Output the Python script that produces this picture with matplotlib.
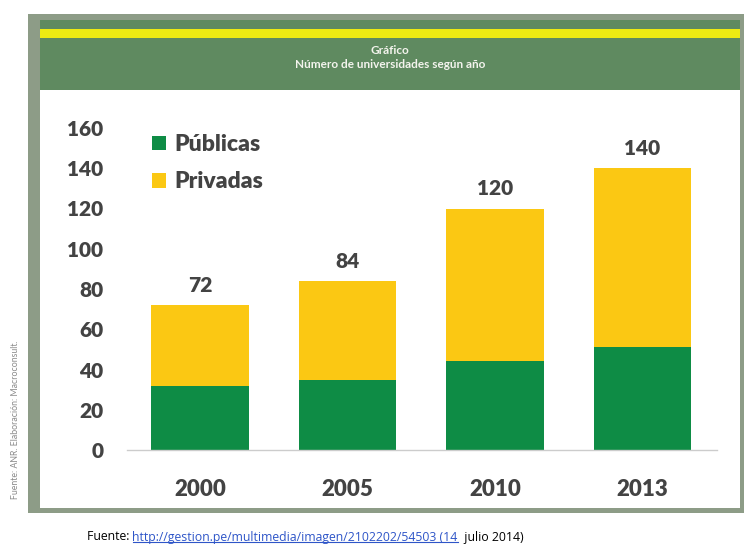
import matplotlib
matplotlib.use("Agg")
import matplotlib.pyplot as plt
from matplotlib.patches import Rectangle
from matplotlib.lines import Line2D

# Número de universidades por año (públicas / privadas)
anios = ['2000', '2005', '2010', '2013']
publicas = [32, 35, 44, 51]
privadas = [40, 49, 76, 89]
totales = [p + q for p, q in zip(publicas, privadas)]
ticks_y = [0, 20, 40, 60, 80, 100, 120, 140, 160]

VERDE = '#0e8c45'
AMARILLO = '#fbc813'
GRIS_TXT = '#434343'
MARCO = '#8d9c87'
CABECERA = '#5f8a60'
FRANJA = '#eeeb12'
PESO = 'heavy'

W, H = 744, 547
fig = plt.figure(figsize=(W / 100, H / 100), dpi=100)
plt.rcParams['font.family'] = ['Lato', 'DejaVu Sans']


def caja(x0, y0, x1, y1, color, z):
    # rectángulo en píxeles, origen arriba a la izquierda
    r = Rectangle((x0 / W, 1 - y1 / H), (x1 - x0) / W, (y1 - y0) / H,
                  transform=fig.transFigure, facecolor=color,
                  edgecolor='none', zorder=z)
    fig.add_artist(r)


# marco y cabecera
caja(28, 14, 744, 513, MARCO, -5)
caja(40, 20, 740, 508, 'white', -4)
caja(40, 20, 740, 90, CABECERA, -3)
caja(40, 29, 740, 38, FRANJA, -2)

fig.text(390 / W, 1 - 50 / H, 'Gráfico', color='#f4f4ee', fontsize=8.5,
         fontweight='bold', ha='center', va='center')
fig.text(390 / W, 1 - 65 / H, 'Número de universidades según año',
         color='#f4f4ee', fontsize=8.5, fontweight='bold',
         ha='center', va='center')

# área del gráfico
ax = fig.add_axes([127 / W, 1 - 450 / H, (717 - 127) / W, (450 - 128) / H])
ax.set_facecolor('white')
x = list(range(len(anios)))
ancho = 0.664
ax.bar(x, publicas, width=ancho, color=VERDE, label='Públicas')
ax.bar(x, privadas, width=ancho, bottom=publicas, color=AMARILLO, label='Privadas')

for xi, t in zip(x, totales):
    ax.annotate(str(t), (xi, t), xytext=(0, 7.5), textcoords='offset points',
                ha='center', va='bottom', fontsize=15, fontweight=PESO,
                color=GRIS_TXT)

ax.set_xlim(-0.495, 3.505)
ax.set_ylim(0, 160)
ax.set_yticks(ticks_y)
ax.set_xticks(x)
ax.set_xticklabels(anios)
ax.tick_params(axis='y', length=0, pad=17, labelsize=15, labelcolor=GRIS_TXT)
ax.tick_params(axis='x', length=0, pad=21, labelsize=16, labelcolor=GRIS_TXT)
for lab in ax.get_xticklabels() + ax.get_yticklabels():
    lab.set_fontweight(PESO)
for s in ['top', 'right', 'left']:
    ax.spines[s].set_visible(False)
ax.spines['bottom'].set_color('#cccccc')
ax.spines['bottom'].set_linewidth(1)

leg = ax.legend(loc='upper left', bbox_to_anchor=(152 / W, 1 - 134 / H),
                bbox_transform=fig.transFigure, frameon=False, borderpad=0,
                borderaxespad=0, handlelength=0.62, handleheight=0.58,
                handletextpad=0.36, labelspacing=0.72,
                prop={'size': 16.5, 'weight': PESO})
for t in leg.get_texts():
    t.set_color(GRIS_TXT)

# nota lateral
fig.text(16 / W, 1 - 420 / H, 'Fuente: ANR. Elaboración: Macroconsult.',
         rotation=90, fontsize=6.3, color='#8a8a8a', ha='center', va='center')

# fuente al pie, con el enlace en azul subrayado
renderer = fig.canvas.get_renderer()
partes = [('Fuente: ', 'black', False),
          ('http://gestion.pe/multimedia/imagen/2102202/54503 (14', '#2e55c8', True),
          ('  julio 2014)', 'black', False)]
xpos = 87
for texto, color, subr in partes:
    t = fig.text(xpos / W, 1 - 537 / H, texto, color=color, fontsize=8.8,
                 ha='left', va='center', family=['Open Sans', 'DejaVu Sans'])
    bb = t.get_window_extent(renderer)
    if subr:
        fig.add_artist(Line2D([bb.x0 / W, bb.x1 / W],
                              [(bb.y0 + 1.5) / H, (bb.y0 + 1.5) / H],
                              transform=fig.transFigure, color=color, lw=0.8))
    xpos = bb.x1

fig.savefig('out.png', dpi=100)
